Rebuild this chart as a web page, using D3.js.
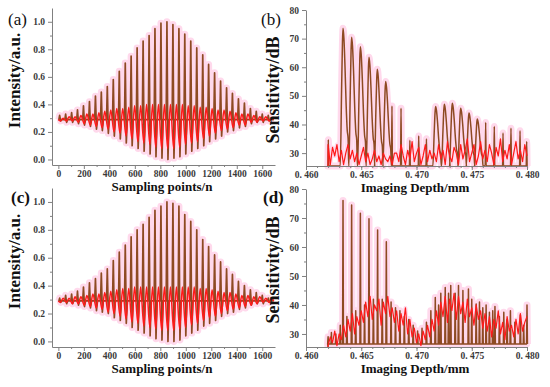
<!DOCTYPE html>
<html>
<head>
<meta charset="utf-8">
<script src="https://cdn.jsdelivr.net/npm/d3@7/dist/d3.min.js"></script>
<style>
  body { margin: 0; background: #fff; }
  svg { display: block; }
  .tick text { font-family: "Liberation Serif", serif; font-size: 9.5px; font-weight: bold; fill: #3a3a3a; }
  .domain, .tick line { stroke: #808080; }
  .ttl { font-family: "Liberation Serif", serif; font-weight: bold; fill: #111; }
  .tag { font-family: "Liberation Serif", serif; font-size: 17px; fill: #111; }
</style>
</head>
<body>
<div id="vis"></div>
<script>
// ---- data ----

// fringe centres (sampling points), panels (a) and (c)
var fringePos = [10, 57, 104, 150, 197, 244, 291, 337, 384, 431, 478, 525, 571, 618, 665, 712, 758, 805,
  852, 899, 946, 992, 1039, 1086, 1133, 1179, 1226, 1273, 1320, 1366, 1413, 1460, 1507, 1553, 1600, 1647];

// (a) brown spikes: top / bottom of each fringe
var aBrownHi = [0.32, 0.33, 0.34, 0.36, 0.39, 0.42, 0.46, 0.49, 0.53, 0.58, 0.64, 0.70, 0.75, 0.81, 0.86, 0.90, 0.95, 0.99,
  1.00, 0.98, 0.95, 0.91, 0.86, 0.81, 0.76, 0.69, 0.63, 0.57, 0.52, 0.48, 0.44, 0.41, 0.37, 0.35, 0.33, 0.32];
var aBrownLo = [0.28, 0.27, 0.27, 0.26, 0.25, 0.24, 0.22, 0.21, 0.19, 0.17, 0.15, 0.12, 0.10, 0.08, 0.06, 0.04, 0.02, 0.01,
  0.00, 0.01, 0.02, 0.04, 0.06, 0.08, 0.10, 0.13, 0.15, 0.17, 0.20, 0.21, 0.23, 0.24, 0.26, 0.27, 0.27, 0.28];
// (a) red fringes
var aRedHi = [0.30, 0.31, 0.31, 0.32, 0.33, 0.33, 0.34, 0.35, 0.36, 0.37, 0.37, 0.38, 0.39, 0.39, 0.40, 0.40, 0.40, 0.40,
  0.40, 0.40, 0.40, 0.39, 0.39, 0.38, 0.38, 0.37, 0.36, 0.36, 0.35, 0.34, 0.33, 0.33, 0.32, 0.31, 0.31, 0.30];
var aRedLo = [0.28, 0.28, 0.28, 0.27, 0.26, 0.25, 0.24, 0.23, 0.22, 0.20, 0.19, 0.17, 0.15, 0.13, 0.12, 0.11, 0.09, 0.08,
  0.08, 0.08, 0.09, 0.11, 0.12, 0.13, 0.15, 0.17, 0.19, 0.21, 0.22, 0.23, 0.25, 0.25, 0.27, 0.27, 0.28, 0.28];

// (c)
var cBrownHi = [0.31, 0.33, 0.34, 0.36, 0.39, 0.42, 0.45, 0.49, 0.52, 0.58, 0.64, 0.69, 0.75, 0.80, 0.84, 0.89, 0.94, 0.97,
  1.00, 0.99, 0.97, 0.91, 0.86, 0.80, 0.73, 0.68, 0.62, 0.57, 0.52, 0.48, 0.43, 0.40, 0.37, 0.35, 0.33, 0.31];
var cBrownLo = [0.28, 0.27, 0.27, 0.26, 0.25, 0.24, 0.22, 0.21, 0.20, 0.17, 0.15, 0.13, 0.10, 0.08, 0.06, 0.04, 0.02, 0.01,
  0.00, 0.00, 0.01, 0.04, 0.06, 0.08, 0.11, 0.13, 0.15, 0.18, 0.20, 0.21, 0.23, 0.24, 0.26, 0.27, 0.27, 0.28];
var cRedHi = [0.31, 0.31, 0.32, 0.32, 0.33, 0.34, 0.34, 0.35, 0.36, 0.37, 0.38, 0.38, 0.39, 0.39, 0.39, 0.39, 0.39, 0.39,
  0.39, 0.39, 0.39, 0.39, 0.39, 0.38, 0.38, 0.37, 0.36, 0.35, 0.35, 0.34, 0.33, 0.33, 0.32, 0.32, 0.31, 0.31];
var cRedLo = [0.28, 0.28, 0.27, 0.27, 0.26, 0.25, 0.24, 0.23, 0.21, 0.20, 0.18, 0.16, 0.14, 0.13, 0.11, 0.10, 0.09, 0.08,
  0.08, 0.08, 0.09, 0.10, 0.12, 0.13, 0.15, 0.17, 0.18, 0.20, 0.22, 0.23, 0.24, 0.25, 0.26, 0.27, 0.28, 0.28];

var sampleTicks = [0, 200, 400, 600, 800, 1000, 1200, 1400, 1600];
var intensityTicks = [0, 0.2, 0.4, 0.6, 0.8, 1.0];

// depth panels: red trace sampled every 0.0002 mm from 0.462 mm
var depthStart = 0.462, depthStep = 0.0002;
var bRed = [33, 26, 32, 29, 33, 27, 31,
  26, 30, 33, 28, 31, 27, 30, 26, 29, 32, 27, 30, 26, 28, 31, 27, 29, 26, 30, 28, 27, 29, 26, 30,
  30, 27, 33, 29, 26, 31, 28, 34, 27, 30, 32, 26, 29, 33, 27, 31, 28,
  30, 27, 33, 28, 31, 26, 34, 29, 27, 32, 30, 26, 33, 28, 31, 35, 27, 30, 33, 26, 29, 34, 28, 31,
  27, 33, 30, 26, 32, 29, 35, 27, 31, 28, 33, 26, 30, 34, 28, 31, 27, 33, 29];
// (b) brown: [depth, peak dB, kind]  L = lobe, S = narrow spike
var bBrown = [
  [0.46202, 34.7, 'S'],
  [0.46335, 73.6, 'L'], [0.46413, 70.5, 'L'], [0.46492, 67.2, 'L'], [0.46570, 63.5, 'L'],
  [0.46645, 59.3, 'L'], [0.46721, 55.0, 'L'],
  [0.46778, 46.5, 'S'], [0.46860, 45.7, 'S'], [0.46940, 34.5, 'S'], [0.47020, 36.0, 'S'], [0.47090, 35.0, 'S'],
  [0.47173, 46.3, 'L'], [0.47252, 47.1, 'L'], [0.47324, 47.4, 'L'], [0.47400, 45.7, 'L'],
  [0.47475, 44.0, 'L'], [0.47550, 41.9, 'L'],
  [0.47626, 40.7, 'S'], [0.47704, 39.3, 'S'], [0.47783, 37.0, 'S'], [0.47855, 38.7, 'S'],
  [0.47937, 37.8, 'S'], [0.47997, 34.1, 'S']
];

var dRed = [26, 29, 27, 31, 26, 30, 28, 33,
  29, 35, 31, 37, 30, 36, 33, 38,
  34, 41, 36, 43, 35, 40, 38, 42, 33, 41, 37, 43, 36, 39, 34,
  38, 31, 37, 33, 39, 30, 35, 29,
  32, 27, 30, 26, 31, 28, 33, 29,
  35, 31, 38, 33, 41, 36, 43, 34, 42, 38, 44, 35, 43, 37, 41, 34, 42, 36, 39, 33, 40, 35, 38, 32,
  37, 31, 36, 29, 35, 32, 38, 30, 34, 28, 36, 31, 33, 29, 35, 30, 37, 31, 34, 36];
// (d) brown spikes: [depth, peak dB]
var dBrown = [
  [0.4620, 29], [0.4623, 30.5], [0.4627, 30], [0.4631, 33], [0.46335, 76], [0.4637, 36],
  [0.46413, 74.5], [0.4645, 38], [0.46492, 71.6], [0.4653, 40], [0.4657, 69.7], [0.4661, 42],
  [0.46648, 65.9], [0.4669, 42], [0.46727, 61.8], [0.4677, 41], [0.4681, 39], [0.4685, 38],
  [0.4689, 36], [0.4693, 35], [0.4697, 33], [0.4701, 31], [0.4705, 32], [0.4709, 34], [0.4713, 38],
  [0.4717, 42.6], [0.4720, 40], [0.4722, 44], [0.4726, 46], [0.4729, 44], [0.4731, 46.7], [0.4735, 44],
  [0.4738, 46.7], [0.4742, 45], [0.4747, 45.5], [0.4750, 42], [0.4754, 40.3], [0.4757, 41], [0.4760, 39],
  [0.4763, 40], [0.4766, 37.5], [0.4769, 38], [0.4771, 39.5], [0.4775, 36], [0.4779, 37.5], [0.4782, 35],
  [0.4785, 38], [0.4789, 34], [0.4794, 36.5], [0.4797, 33], [0.4800, 40]
];

var depthTicks = [0.460, 0.465, 0.470, 0.475, 0.480];
var sensTicks = [30, 40, 50, 60, 70, 80];

// ---- drawing ----
var brown = '#8e4a22', red = '#ff1a1a', halo = '#ffd9ec';

var svg = d3.select('#vis').append('svg')
  .attr('width', 550)
  .attr('height', 387);

var drawAxes = function (x, y, xt, xMinor, yt, yMinor, xfmt, yfmt) {
  var xr = x.range(), yr = y.range();
  // minor ticks first
  svg.append('g')
    .attr('transform', 'translate(0,' + yr[0] + ')')
    .call(d3.axisBottom(x).tickValues(xMinor).tickSize(2).tickFormat(''))
    .select('.domain').remove();
  svg.append('g')
    .attr('transform', 'translate(' + xr[0] + ',0)')
    .call(d3.axisLeft(y).tickValues(yMinor).tickSize(2).tickFormat(''))
    .select('.domain').remove();
  svg.append('g')
    .attr('transform', 'translate(0,' + yr[0] + ')')
    .call(d3.axisBottom(x).tickValues(xt).tickSize(4).tickSizeOuter(0).tickPadding(1).tickFormat(xfmt));
  svg.append('g')
    .attr('transform', 'translate(' + xr[0] + ',0)')
    .call(d3.axisLeft(y).tickValues(yt).tickSize(4).tickSizeOuter(0).tickPadding(3).tickFormat(yfmt));
};

var drawLine = function (pts, x, y, color, width, curve) {
  var line = d3.line()
    .x(function (d) { return x(d[0]); })
    .y(function (d) { return y(d[1]); })
    .curve(curve || d3.curveLinear);
  svg.append('path')
    .datum(pts)
    .attr('d', line)
    .attr('fill', 'none')
    .attr('stroke', color)
    .attr('stroke-width', width)
    .attr('stroke-linejoin', 'round');
};

var label = function (txt, x, y, size, rot) {
  svg.append('text')
    .attr('class', 'ttl')
    .attr('transform', 'translate(' + x + ',' + y + ')' + (rot ? ' rotate(-90)' : ''))
    .attr('text-anchor', 'middle')
    .style('font-size', size + 'px')
    .text(txt);
};

// interferogram panels (a), (c)
var fringePanel = function (top, bottom, bHi, bLo, rHi, rLo) {
  var x = d3.scaleLinear().domain([-50, 1700]).range([52, 275]);
  var y = d3.scaleLinear().domain([-0.04, 1.1]).range([bottom, top]);
  var base = 0.29;

  var bPts = [[0, base]];
  var rPts = [[0, base]];
  fringePos.forEach(function (p, i) {
    bPts.push([p - 6, base], [p, bHi[i]], [p + 8, bLo[i]], [p + 16, base]);
    rPts.push([p + 6, rLo[i]], [p + 27, rHi[i]]);
  });
  bPts.push([1690, base]);
  rPts.push([1690, base]);

  drawLine(bPts, x, y, halo, 7);
  drawLine(bPts, x, y, brown, 1.7);
  drawLine(rPts, x, y, red, 1.5, d3.curveMonotoneX);
  drawAxes(x, y, sampleTicks, d3.range(100, 1700, 200),
    intensityTicks, d3.range(0.1, 1.1, 0.2), d3.format('d'), d3.format('.1f'));
  label('Sampling points/n', 162, bottom + 26, 13);
  label('Intensity/a.u.', 20, (top + bottom) / 2 - 6, 17, true);
};

// sensitivity panels (b), (d)
var lobeShape = [[-0.00025, 0], [-0.00013, 0.55], [-0.00005, 0.9], [0, 1], [0.00008, 0.93], [0.00018, 0.72],
  [0.00028, 0.45], [0.00038, 0.26], [0.00046, 0.2], [0.00052, 0]];
var spikeShape = [[-0.00004, 0], [0, 1], [0.00004, 0]];

var sensPanel = function (top, bottom, redVals, brownPts, brownCurve) {
  var x = d3.scaleLinear().domain([0.460, 0.480]).range([306, 527]);
  var y = d3.scaleLinear().domain([25.5, 80]).range([bottom, top]);

  var rPts = redVals.map(function (v, i) { return [depthStart + i * depthStep, v]; });
  rPts.unshift([depthStart, 25.5]);

  drawLine(brownPts, x, y, halo, 7, brownCurve);
  drawLine(rPts, x, y, halo, 4);
  drawLine(brownPts, x, y, brown, 1.5, brownCurve);
  drawLine(rPts, x, y, red, 1.2);
  drawAxes(x, y, depthTicks, d3.range(0.461, 0.480, 0.001),
    sensTicks, d3.range(35, 80, 10), function (d) { return d3.format('.3f')(d).replace('.', '. '); }, d3.format('d'));
  label('Imaging Depth/mm', 415, bottom + 26, 13);
  label('Sensitivity/dB', 279, (top + bottom) / 2 + 2, 18, true);
};

// expand (b) brown features into a trace
var bTrace = [[0.46200, 25.5]];
bBrown.forEach(function (f) {
  var shape = f[2] === 'L' ? lobeShape : spikeShape;
  shape.forEach(function (s) {
    bTrace.push([f[0] + s[0], 25.5 + s[1] * (f[1] - 25.5)]);
  });
});

var dTrace = [[0.46200, 25.5]];
dBrown.forEach(function (f) {
  dTrace.push([f[0] - 0.00004, 26.5], [f[0], f[1]], [f[0] + 0.00004, 26.5]);
});

fringePanel(8, 165, aBrownHi, aBrownLo, aRedHi, aRedLo);
fringePanel(188, 347, cBrownHi, cBrownLo, cRedHi, cRedLo);
sensPanel(10, 166, bRed, bTrace, d3.curveMonotoneX);
sensPanel(189, 347, dRed, dTrace);

// panel letters
[['(a)', 8, 25], ['(b)', 261, 25], ['(c)', 11, 203], ['(d)', 263, 203]].forEach(function (t) {
  svg.append('text')
    .attr('class', 'tag')
    .attr('x', t[1])
    .attr('y', t[2])
    .style('font-weight', t[0] === '(c)' || t[0] === '(d)' ? 'bold' : 'normal')
    .text(t[0]);
});
</script>
</body>
</html>
